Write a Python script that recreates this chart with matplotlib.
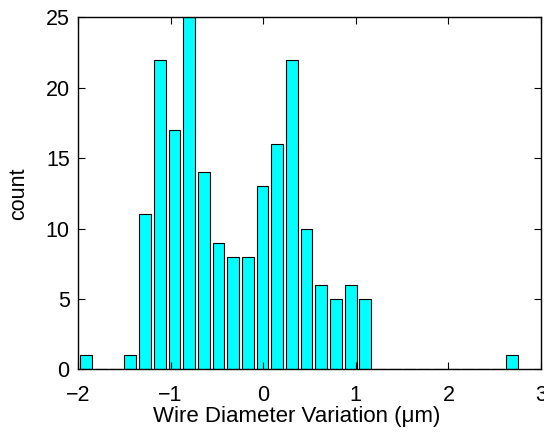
import numpy as np
import matplotlib

matplotlib.use("Agg")
import matplotlib.pyplot as plt

plt.rcParams["font.family"] = ["Liberation Sans", "DejaVu Sans"]

# histogram bin centres (30 bins) and counts
bin_first = -1.911
bin_last = 2.689
counts = [1, 0, 0, 1, 11, 22, 17, 25, 14, 9, 8, 8, 13, 16, 22,
          10, 6, 5, 6, 5, 0, 0, 0, 0, 0, 0, 0, 0, 0, 1]
centers = np.linspace(bin_first, bin_last, len(counts))
step = centers[1] - centers[0]

x_ticks = [-2, -1, 0, 1, 2, 3]
y_ticks = [0, 5, 10, 15, 20, 25]

fig = plt.figure(figsize=(5.44, 4.34), dpi=100)
ax = fig.add_axes([0.1434, 0.149, 0.8511, 0.811])

ax.bar(centers, counts, width=0.8 * step, color="#00FFFF",
       edgecolor="black", linewidth=0.8)

ax.set_xlim(-2, 3)
ax.set_ylim(0, 25)
ax.set_xticks(x_ticks)
ax.set_xticklabels(["\u22122", "\u22121", "0", "1", "2", "3"])
ax.set_yticks(y_ticks)
ax.tick_params(direction="in", top=True, right=True, labelsize=15.5,
               length=5, width=0.8)
ax.tick_params(axis="x", pad=11)
ax.tick_params(axis="y", pad=6)
for spine in ax.spines.values():
    spine.set_linewidth(1.0)

ax.set_xlabel("Wire Diameter Variation (\u03bcm)", fontsize=16)
ax.xaxis.set_label_coords(0.473, -0.105, transform=ax.transAxes)
ax.xaxis.label.set_va("top")
ax.set_ylabel("count", fontsize=15.5, labelpad=12)

fig.savefig("out.png", dpi=100)
